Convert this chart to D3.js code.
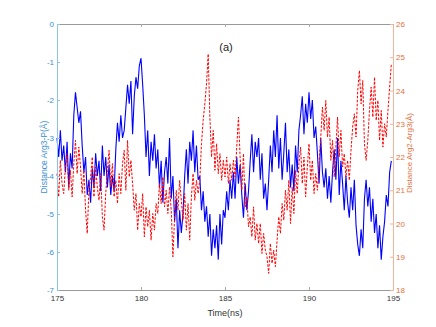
<!doctype html>
<html>
<head>
<meta charset="UTF-8">
<title>Distance vs time</title>
<script src="https://d3js.org/d3.v7.min.js"></script>
<style>
  body { margin: 0; background: #fff; }
  text { font-family: "Liberation Sans Narrow", "Liberation Sans", Arial, sans-serif; }
</style>
</head>
<body>
<script>
// sampling grid of the two traces (ns)
var timeStart = 175, timeStep = 0.1;

var xTicks = [175, 180, 185, 190, 195];
var leftTicks = [0, -1, -2, -3, -4, -5, -6, -7];
var rightTicks = [18, 19, 20, 21, 22, 23, 24, 25, 26];

// Distance Arg3-P (left axis), every 0.1 ns
var distArg3P = [
  -3.0, -3.5, -2.8, -3.6, -3.2,  -3.9, -3.1, -4.3, -3.4, -3.8,
  -2.4, -1.8, -2.2, -2.6, -2.3,  -3.2, -3.9, -3.5, -4.5, -4.1,
  -4.7, -3.8, -4.3, -3.4, -4.0,  -3.6, -4.4, -3.2, -4.0, -3.5,
  -4.3, -3.7, -4.5, -4.0, -4.4,  -3.3, -2.6, -3.1, -2.4, -3.0,
  -2.8, -2.2, -1.6, -2.1, -1.5,  -2.9, -1.9, -1.4, -1.7, -1.1,
  -0.9, -1.6, -2.4, -3.5, -2.8,  -4.0, -3.1, -3.6, -2.9, -3.8,
  -3.3, -4.3, -3.6, -4.7, -3.9,  -3.5, -4.2, -3.0, -4.6, -4.0,
  -5.2, -4.6, -5.9, -4.9, -5.5,  -5.0, -4.0, -3.3, -4.2, -3.1,
  -3.6, -2.8, -3.9, -3.2, -4.1,  -4.0, -4.9, -4.4, -5.2, -4.8,
  -5.6, -5.0, -6.1, -5.4, -5.9,  -5.3, -6.2, -5.0, -5.8, -4.9,
  -5.1, -4.4, -4.9, -4.1, -4.6,  -3.9, -4.6, -3.5, -4.2, -3.7,
  -4.5, -5.1, -4.2, -4.9, -4.4,  -3.6, -2.9, -3.9, -3.1, -3.5,
  -3.0, -4.1, -3.4, -4.6, -4.2,  -4.9, -4.1, -3.2, -3.9, -2.8,
  -3.5, -2.4, -3.8, -3.0, -4.1,  -3.4, -2.6, -3.9, -3.3, -4.3,
  -3.7, -4.4, -3.2, -3.9, -2.8,  -2.4, -1.9, -2.9, -2.1, -2.6,
  -1.8, -2.5, -2.0, -3.0, -2.7,  -3.4, -4.2, -3.0, -3.9, -4.3,
  -3.8, -4.6, -4.0, -4.7, -3.9,  -3.3, -4.1, -3.0, -4.5, -3.6,
  -4.2, -4.9, -4.0, -4.7, -5.1,  -4.3, -4.9, -4.1, -5.3, -5.8,
  -6.1, -5.4, -5.9, -4.6, -4.1,  -4.8, -4.3, -5.2, -4.6, -5.5,
  -5.0, -5.9, -5.3, -6.2, -5.6,  -5.2, -4.5, -4.8, -3.9, -3.6
];

// Distance Arg2-Arg3 (right axis), every 0.1 ns
var distArg2Arg3 = [
  21.5, 20.8, 21.9, 21.2, 20.9,  21.7, 22.1, 21.0, 21.6, 20.8,
  21.8, 22.5, 21.5, 22.3, 21.7,  20.9, 21.6, 20.4, 19.7, 21.0,
  21.4, 22.0, 20.8, 21.7, 21.1,  20.7, 21.5, 20.2, 19.8, 20.9,
  21.6, 22.2, 21.1, 21.8, 20.8,  21.3, 20.6, 21.5, 20.9, 21.8,
  22.2, 21.0, 22.5, 21.4, 21.9,  21.2, 20.4, 20.9, 19.8, 20.6,
  20.2, 20.9, 19.6, 20.5, 19.9,  20.4, 19.5, 20.3, 19.8, 20.6,
  20.3, 21.2, 20.6, 21.4, 20.5,  21.0, 20.3, 21.1, 20.4, 19.0,
  20.2, 21.0, 20.4, 21.3, 20.7,  20.1, 20.9, 19.8, 20.6, 19.5,
  20.8, 21.5, 20.7, 21.3, 20.9,  21.3, 22.4, 23.1, 23.6, 24.2,
  25.1, 23.2, 22.0, 22.8, 21.6,  22.4, 21.5, 22.1, 21.3, 21.9,
  21.4, 22.0, 21.2, 21.8, 21.3,  21.9, 21.4, 22.3, 23.2, 22.0,
  21.0, 22.1, 20.5, 20.8, 19.9,  20.2, 19.6, 20.5, 19.5, 20.0,
  19.4, 20.0, 19.1, 19.7, 19.2,  19.0, 18.5, 19.4, 18.8, 19.2,
  18.7, 19.5, 20.2, 19.7, 20.6,  20.1, 21.0, 20.4, 21.3, 20.0,
  21.1, 20.3, 21.6, 20.9, 21.8,  22.3, 21.2, 22.0, 20.8, 21.7,
  22.4, 21.3, 21.9, 20.9, 21.5,  21.0, 21.8, 22.6, 23.5, 22.8,
  23.7, 22.6, 23.2, 21.9, 22.5,  21.4, 22.3, 23.2, 22.0, 22.8,
  21.7, 22.1, 21.4, 21.9, 21.3,  22.2, 22.9, 23.3, 22.6, 24.0,
  24.6, 23.6, 24.3, 22.4, 21.9,  22.5, 23.4, 24.1, 23.2, 24.4,
  23.1, 23.7, 22.5, 23.4, 22.3,  23.0, 22.6, 23.4, 24.1, 24.8
];

var width = 436, height = 327,
    plotLeft = 57, plotRight = 393, plotTop = 24, plotBottom = 290;

var svg = d3.select("body").append("svg")
    .attr("width", width)
    .attr("height", height);

var x = d3.scaleLinear().domain([175, 195]).range([plotLeft, plotRight]);
var yL = d3.scaleLinear().domain([-7, 0]).range([plotBottom, plotTop]);
var yR = d3.scaleLinear().domain([18, 26]).range([plotBottom, plotTop]);

function timeAt(i) { return timeStart + i * timeStep; }

var lineL = d3.line()
    .x(function(d, i) { return x(timeAt(i)); })
    .y(function(d) { return yL(d); });
var lineR = d3.line()
    .x(function(d, i) { return x(timeAt(i)); })
    .y(function(d) { return yR(d); });

// traces
svg.append("path")
    .datum(distArg3P)
    .attr("d", lineL)
    .attr("fill", "none")
    .attr("stroke", "#0000ff")
    .attr("stroke-width", 1.1);

svg.append("path")
    .datum(distArg2Arg3)
    .attr("d", lineR)
    .attr("fill", "none")
    .attr("stroke", "#ff0000")
    .attr("stroke-width", 1)
    .attr("stroke-dasharray", "2.5,1.5");

var narrow = "'Liberation Sans Narrow', 'Liberation Sans', sans-serif";

// axes
var gBottom = svg.append("g")
    .attr("transform", "translate(0," + plotBottom + ")")
    .call(d3.axisBottom(x).tickValues(xTicks).tickSizeInner(-3).tickSizeOuter(0).tickPadding(5));
gBottom.select(".domain").attr("stroke", "#999");
gBottom.selectAll(".tick line").attr("stroke", "#aaa");
gBottom.selectAll("text").attr("fill", "#333").attr("font-size", 8).attr("font-family", narrow);

var gTop = svg.append("g")
    .attr("transform", "translate(0," + plotTop + ")")
    .call(d3.axisTop(x).tickValues(xTicks).tickSizeInner(-3).tickSizeOuter(0).tickFormat(""));
gTop.select(".domain").attr("stroke", "#999");
gTop.selectAll(".tick line").attr("stroke", "#aaa");

var gLeft = svg.append("g")
    .attr("transform", "translate(" + plotLeft + ",0)")
    .call(d3.axisLeft(yL).tickValues(leftTicks).tickSizeInner(-3).tickSizeOuter(0).tickPadding(3)
        .tickFormat(function(d) { return String(d); }));
gLeft.select(".domain").attr("stroke", "#8cc4e8");
gLeft.selectAll(".tick line").attr("stroke", "#8cc4e8");
gLeft.selectAll("text").attr("fill", "#3d8fd1").attr("font-size", 8).attr("font-family", narrow);

var gRight = svg.append("g")
    .attr("transform", "translate(" + plotRight + ",0)")
    .call(d3.axisRight(yR).tickValues(rightTicks).tickSizeInner(-3).tickSizeOuter(0).tickPadding(3));
gRight.select(".domain").attr("stroke", "#f2b49a");
gRight.selectAll(".tick line").attr("stroke", "#f2b49a");
gRight.selectAll("text").attr("fill", "#e5703e").attr("font-size", 8).attr("font-family", narrow);

// labels
svg.append("text")
    .attr("x", (plotLeft + plotRight) / 2)
    .attr("y", 316)
    .attr("text-anchor", "middle")
    .attr("font-size", 9)
    .attr("fill", "#333")
    .text("Time(ns)");

svg.append("text")
    .attr("transform", "translate(47,157) rotate(-90)")
    .attr("text-anchor", "middle")
    .attr("font-family", "'Liberation Sans', Arial, sans-serif")
    .attr("font-size", 8.5)
    .attr("fill", "#3d8fd1")
    .text("Distance Arg3-P(Å)");

svg.append("text")
    .attr("transform", "translate(412,153) rotate(-90)")
    .attr("text-anchor", "middle")
    .attr("font-family", "'Liberation Sans', Arial, sans-serif")
    .attr("font-size", 8)
    .attr("fill", "#e5703e")
    .text("Distance Arg2-Arg3(Å)");

svg.append("text")
    .attr("x", 226)
    .attr("y", 51)
    .attr("text-anchor", "middle")
    .attr("font-size", 11)
    .attr("fill", "#222")
    .text("(a)");
</script>
</body>
</html>
